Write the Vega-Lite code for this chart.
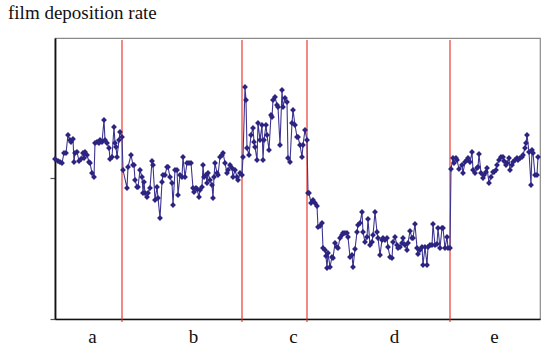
{
  "$schema": "https://vega.github.io/schema/vega-lite/v6.json",
  "width": 485,
  "height": 281,
  "autosize": {"type": "none"},
  "padding": {"left": 55, "top": 38, "right": 16, "bottom": 29},
  "background": "white",
  "title": {"text": "film deposition rate", "anchor": "start", "frame": "group", "dx": -47, "offset": 0, "baseline": "alphabetic", "font": "Liberation Serif", "fontSize": 19, "fontWeight": "normal", "color": "#111"},
  "config": {"view": {"stroke": "#8a8a8a", "strokeWidth": 1.2}},
  "datasets": {
    "series": [
      {"t":0,"v":160},{"t":3,"v":158},{"t":5,"v":157},{"t":7,"v":156},{"t":9,"v":166},{"t":11,"v":166},{"t":13,"v":184},{"t":15,"v":179},{"t":16,"v":177},{"t":18,"v":180},{"t":19,"v":157},{"t":20,"v":166},{"t":22,"v":167},{"t":24,"v":158},{"t":26,"v":160},{"t":28,"v":166},{"t":29,"v":161},{"t":30,"v":167},{"t":32,"v":164},{"t":34,"v":157},{"t":35,"v":156},{"t":37,"v":146},{"t":39,"v":142},{"t":40,"v":176},{"t":42,"v":177},{"t":44,"v":176},{"t":45,"v":179},{"t":47,"v":177},{"t":49,"v":199},{"t":50,"v":179},{"t":52,"v":176},{"t":54,"v":171},{"t":55,"v":160},{"t":57,"v":162},{"t":59,"v":192},{"t":60,"v":176},{"t":61,"v":172},{"t":62,"v":162},{"t":64,"v":179},{"t":65,"v":187},{"t":67,"v":182},
      {"t":68,"v":149},{"t":72,"v":131},{"t":73,"v":152},{"t":76,"v":164},{"t":78,"v":154},{"t":79,"v":154},{"t":80,"v":139},{"t":82,"v":132},{"t":83,"v":132},{"t":85,"v":149},{"t":87,"v":142},{"t":88,"v":126},{"t":89,"v":137},{"t":90,"v":126},{"t":92,"v":122},{"t":93,"v":126},{"t":95,"v":131},{"t":97,"v":158},{"t":98,"v":154},{"t":100,"v":119},{"t":102,"v":132},{"t":103,"v":121},{"t":105,"v":101},{"t":107,"v":137},{"t":108,"v":144},{"t":110,"v":144},{"t":112,"v":152},{"t":113,"v":152},{"t":115,"v":142},{"t":117,"v":136},{"t":118,"v":114},{"t":120,"v":149},{"t":122,"v":149},{"t":123,"v":124},{"t":125,"v":144},{"t":127,"v":142},{"t":128,"v":162},{"t":130,"v":142},{"t":132,"v":156},{"t":134,"v":156},{"t":136,"v":156},{"t":138,"v":131},{"t":139,"v":127},{"t":141,"v":131},{"t":142,"v":130},{"t":144,"v":122},{"t":145,"v":129},{"t":147,"v":132},{"t":148,"v":154},{"t":149,"v":142},{"t":151,"v":144},{"t":152,"v":136},{"t":153,"v":146},{"t":155,"v":139},{"t":157,"v":134},{"t":158,"v":121},{"t":159,"v":142},{"t":160,"v":156},{"t":162,"v":146},{"t":163,"v":144},{"t":165,"v":162},{"t":167,"v":164},{"t":168,"v":166},{"t":170,"v":156},{"t":172,"v":146},{"t":173,"v":149},{"t":175,"v":154},{"t":177,"v":151},{"t":178,"v":142},{"t":180,"v":149},{"t":182,"v":142},{"t":183,"v":139},{"t":185,"v":146},{"t":187,"v":144},
      {"t":188,"v":162},{"t":190,"v":232},{"t":191,"v":219},{"t":192,"v":171},{"t":194,"v":164},{"t":196,"v":184},{"t":198,"v":191},{"t":199,"v":177},{"t":200,"v":172},{"t":202,"v":159},{"t":203,"v":196},{"t":205,"v":179},{"t":207,"v":194},{"t":208,"v":159},{"t":209,"v":179},{"t":211,"v":194},{"t":212,"v":184},{"t":214,"v":169},{"t":216,"v":204},{"t":217,"v":202},{"t":218,"v":219},{"t":220,"v":222},{"t":222,"v":214},{"t":223,"v":212},{"t":225,"v":174},{"t":227,"v":229},{"t":228,"v":212},{"t":230,"v":221},{"t":232,"v":217},{"t":233,"v":161},{"t":235,"v":157},{"t":237,"v":196},{"t":238,"v":209},{"t":240,"v":194},{"t":242,"v":182},{"t":243,"v":182},{"t":245,"v":174},{"t":247,"v":162},{"t":248,"v":174},{"t":250,"v":189},{"t":252,"v":179},
      {"t":253,"v":126},{"t":254,"v":126},{"t":256,"v":116},{"t":258,"v":119},{"t":260,"v":116},{"t":262,"v":113},{"t":263,"v":92},{"t":265,"v":93},{"t":267,"v":96},{"t":268,"v":71},{"t":270,"v":69},{"t":271,"v":63},{"t":272,"v":51},{"t":273,"v":66},{"t":275,"v":52},{"t":277,"v":62},{"t":278,"v":61},{"t":280,"v":76},{"t":282,"v":72},{"t":283,"v":71},{"t":285,"v":81},{"t":287,"v":84},{"t":288,"v":86},{"t":290,"v":86},{"t":292,"v":86},{"t":293,"v":82},{"t":295,"v":62},{"t":297,"v":64},{"t":298,"v":52},{"t":300,"v":70},{"t":302,"v":87},{"t":303,"v":94},{"t":305,"v":96},{"t":307,"v":107},{"t":308,"v":87},{"t":310,"v":77},{"t":312,"v":82},{"t":313,"v":100},{"t":315,"v":74},{"t":317,"v":77},{"t":318,"v":84},{"t":320,"v":107},{"t":322,"v":87},{"t":323,"v":81},{"t":325,"v":64},{"t":327,"v":79},{"t":328,"v":81},{"t":330,"v":79},{"t":332,"v":81},{"t":333,"v":72},{"t":335,"v":62},{"t":337,"v":61},{"t":338,"v":77},{"t":340,"v":82},{"t":342,"v":74},{"t":343,"v":71},{"t":345,"v":72},{"t":347,"v":76},{"t":348,"v":81},{"t":350,"v":74},{"t":352,"v":69},{"t":353,"v":76},{"t":355,"v":88},{"t":357,"v":81},{"t":358,"v":81},{"t":360,"v":95},{"t":362,"v":71},{"t":363,"v":65},{"t":365,"v":69},{"t":367,"v":72},{"t":368,"v":54},{"t":370,"v":72},{"t":372,"v":54},{"t":373,"v":72},{"t":375,"v":74},{"t":377,"v":74},{"t":378,"v":95},{"t":380,"v":74},{"t":382,"v":75},{"t":383,"v":91},{"t":385,"v":71},{"t":387,"v":91},{"t":388,"v":91},{"t":390,"v":71},{"t":392,"v":82},{"t":393,"v":71},{"t":395,"v":71},
      {"t":396,"v":150},{"t":398,"v":161},{"t":399,"v":156},{"t":401,"v":161},{"t":402,"v":159},{"t":404,"v":150},{"t":407,"v":154},{"t":408,"v":146},{"t":410,"v":157},{"t":412,"v":159},{"t":413,"v":161},{"t":415,"v":157},{"t":417,"v":167},{"t":418,"v":149},{"t":420,"v":146},{"t":422,"v":151},{"t":423,"v":152},{"t":424,"v":165},{"t":426,"v":146},{"t":428,"v":141},{"t":429,"v":144},{"t":431,"v":147},{"t":432,"v":151},{"t":434,"v":136},{"t":436,"v":142},{"t":438,"v":147},{"t":439,"v":147},{"t":441,"v":149},{"t":442,"v":154},{"t":444,"v":159},{"t":446,"v":162},{"t":448,"v":162},{"t":449,"v":158},{"t":451,"v":154},{"t":452,"v":156},{"t":454,"v":161},{"t":455,"v":149},{"t":457,"v":154},{"t":458,"v":157},{"t":460,"v":159},{"t":462,"v":161},{"t":463,"v":159},{"t":465,"v":161},{"t":467,"v":162},{"t":468,"v":164},{"t":470,"v":171},{"t":471,"v":176},{"t":472,"v":184},{"t":474,"v":167},{"t":476,"v":134},{"t":477,"v":169},{"t":478,"v":166},{"t":480,"v":144},{"t":482,"v":144},{"t":483,"v":162}
    ],
    "splits": [{"t": 67}, {"t": 187}, {"t": 252}, {"t": 395}]
  },
  "layer": [
    {
      "data": {"name": "splits"},
      "mark": {"type": "rule", "color": "#e8281e", "strokeWidth": 1.1},
      "encoding": {
        "x": {"field": "t", "type": "quantitative", "scale": {"domain": [0, 485], "nice": false, "zero": false}},
        "y": {"datum": -3, "type": "quantitative"},
        "y2": {"datum": 279}
      }
    },
    {
      "data": {"name": "series"},
      "mark": {"type": "line", "color": "#3d3590", "strokeWidth": 1.1, "point": {"shape": "diamond", "size": 34, "filled": true, "color": "#2c2480", "opacity": 1}},
      "encoding": {
        "x": {"field": "t", "type": "quantitative", "scale": {"domain": [0, 485], "nice": false, "zero": false},
          "axis": {"title": null, "values": [37, 138, 238, 339, 439], "labelExpr": "['a','b','c','d','e'][indexof([37,138,238,339,439], datum.value)]", "ticks": false, "grid": false, "domainColor": "#111", "domainWidth": 1.6, "labelFont": "Liberation Serif", "labelFontSize": 19, "labelColor": "#111", "labelPadding": 8, "labelFlush": false, "labelOverlap": false}},
        "y": {"field": "v", "type": "quantitative", "scale": {"domain": [0, 281], "nice": false, "zero": false},
          "axis": {"title": null, "values": [0, 141], "labels": false, "grid": false, "tickSize": 5, "tickColor": "#555", "tickWidth": 1.2, "domainColor": "#111", "domainWidth": 1.8}}
      }
    },
    {
      "mark": {"type": "rule", "color": "#111", "strokeWidth": 2},
      "encoding": {
        "x": {"datum": 485, "type": "quantitative"},
        "y": {"datum": 0, "type": "quantitative"},
        "y2": {"datum": 281}
      }
    }
  ]
}
